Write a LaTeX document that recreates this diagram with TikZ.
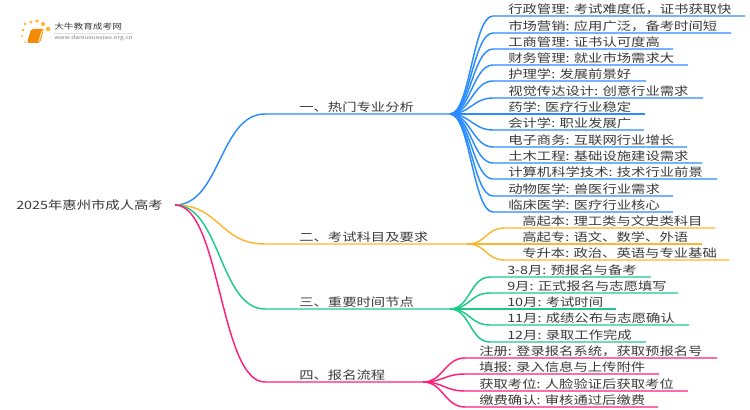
\documentclass[tikz,border=0pt]{standalone}
\usepackage{fontspec}
\setmainfont[FakeStretch=1.25]{Noto Sans CJK SC}
\usetikzlibrary{positioning,calc}
\definecolor{sky}{HTML}{2A8CFF}
\definecolor{amber}{HTML}{FDB62F}
\definecolor{mint}{HTML}{1FC98A}
\definecolor{rose}{HTML}{FF1F7A}
\definecolor{ink}{HTML}{3A3A3A}
\definecolor{bookorange}{HTML}{F28A0A}
\tikzstyle{root} = [anchor=west, text=ink, font=\fontsize{8.6pt}{11pt}\selectfont, inner sep=0pt]
\tikzstyle{major} = [anchor=south west, text=ink, font=\fontsize{8.6pt}{11pt}\selectfont, inner xsep=0pt, inner ysep=0.3pt, text height=7.5pt, text depth=1.2pt]
\tikzstyle{leaf} = [major]
\tikzstyle{trunk} = [line width=1.1pt, out=0, in=180, out distance=34pt, in distance=34pt]
\tikzstyle{twig} = [line width=1.1pt, out=0, in=180, out distance=15pt, in distance=15pt]
\begin{document}
\begin{tikzpicture}[x=0.75pt,y=-0.75pt]
	\useasboundingbox (0,0) rectangle (750,410);
	% logo
	\foreach \dotx/\doty/\dotr in {25/42/0.9,22/36/1.1,23/30/1.3,25/24/1.5,31/22/1.7,37/21/1.9,43/24/2.1,48/29/2.3}
		\fill [amber] (\dotx,\doty) circle (\dotr);
	\fill [bookorange, rounded corners=1.5pt] (31,29) -- (44,29) -- (40,43) -- (27,43) -- cycle;
	\fill [amber!60!white] (41.5,30.5) -- (43,30.5) -- (39.5,41.5) -- (38,41.5) -- cycle;
	\node (logotitle) [anchor=west, inner sep=0pt, text=ink, font=\fontsize{5.8pt}{8pt}\selectfont] at (54,27) {大牛教育成考网};
	\node (logourl) [anchor=west, inner sep=0pt, text=gray, font=\fontsize{3.9pt}{5pt}\selectfont] at (54,38) {www.daniuxuexiao.org.cn};
	\draw [black!12, line width=0.4pt] (54,33) -- (133,33);
	% root and majors
	\node (root) [root] at (16,205) {2025年惠州市成人高考};
	\node (m1) [major] at (299,114) {一、热门专业分析};
	\node (m2) [major] at (299,244) {二、考试科目及要求};
	\node (m3) [major] at (299,309) {三、重要时间节点};
	\node (m4) [major] at (299,382) {四、报名流程};
	\coordinate (rootr) at (175,205);
	\coordinate (m1r) at (450,114);
	\coordinate (m2r) at (467,244);
	\coordinate (m3r) at (450,309);
	\coordinate (m4r) at (423,382);
	\draw [trunk, sky] (rootr) to ($(m1.south west)+(-34,0)$) -- (m1r);
	\draw [trunk, amber] (rootr) to ($(m2.south west)+(-34,0)$) -- (m2r);
	\draw [trunk, mint] (rootr) to ($(m3.south west)+(-34,0)$) -- (m3r);
	\draw [trunk, rose] (rootr) to ($(m4.south west)+(-34,0)$) -- (m4r);
	% first group
	\node (a1) [leaf] at (508,16) {行政管理: 考试难度低，证书获取快};
	\node (a2) [leaf] at (508,33) {市场营销: 应用广泛，备考时间短};
	\node (a3) [leaf] at (508,49) {工商管理: 证书认可度高};
	\node (a4) [leaf] at (508,65) {财务管理: 就业市场需求大};
	\node (a5) [leaf] at (508,81) {护理学: 发展前景好};
	\node (a6) [leaf] at (508,98) {视觉传达设计: 创意行业需求};
	\node (a7) [leaf] at (508,114) {药学: 医疗行业稳定};
	\node (a8) [leaf] at (508,130) {会计学: 职业发展广};
	\node (a9) [leaf] at (508,147) {电子商务: 互联网行业增长};
	\node (a10) [leaf] at (508,163) {土木工程: 基础设施建设需求};
	\node (a11) [leaf] at (508,179) {计算机科学技术: 技术行业前景};
	\node (a12) [leaf] at (508,196) {动物医学: 兽医行业需求};
	\node (a13) [leaf] at (508,212) {临床医学: 医疗行业核心};
	\coordinate (a1r) at (745,16);
	\coordinate (a2r) at (731,33);
	\coordinate (a3r) at (673,49);
	\coordinate (a4r) at (688,65);
	\coordinate (a5r) at (646,81);
	\coordinate (a6r) at (703,98);
	\coordinate (a7r) at (645,114);
	\coordinate (a8r) at (644,130);
	\coordinate (a9r) at (687,147);
	\coordinate (a10r) at (702,163);
	\coordinate (a11r) at (717,179);
	\coordinate (a12r) at (673,196);
	\coordinate (a13r) at (673,212);
	\draw [twig, sky] (m1r) to ($(a1.south west)+(-15,0)$) -- (a1r);
	\draw [twig, sky] (m1r) to ($(a2.south west)+(-15,0)$) -- (a2r);
	\draw [twig, sky] (m1r) to ($(a3.south west)+(-15,0)$) -- (a3r);
	\draw [twig, sky] (m1r) to ($(a4.south west)+(-15,0)$) -- (a4r);
	\draw [twig, sky] (m1r) to ($(a5.south west)+(-15,0)$) -- (a5r);
	\draw [twig, sky] (m1r) to ($(a6.south west)+(-15,0)$) -- (a6r);
	\draw [twig, sky] (m1r) to ($(a7.south west)+(-15,0)$) -- (a7r);
	\draw [twig, sky] (m1r) to ($(a8.south west)+(-15,0)$) -- (a8r);
	\draw [twig, sky] (m1r) to ($(a9.south west)+(-15,0)$) -- (a9r);
	\draw [twig, sky] (m1r) to ($(a10.south west)+(-15,0)$) -- (a10r);
	\draw [twig, sky] (m1r) to ($(a11.south west)+(-15,0)$) -- (a11r);
	\draw [twig, sky] (m1r) to ($(a12.south west)+(-15,0)$) -- (a12r);
	\draw [twig, sky] (m1r) to ($(a13.south west)+(-15,0)$) -- (a13r);
	% second group
	\node (b1) [leaf] at (522,228) {高起本: 理工类与文史类科目};
	\node (b2) [leaf] at (522,244) {高起专: 语文、数学、外语};
	\node (b3) [leaf] at (522,260) {专升本: 政治、英语与专业基础};
	\coordinate (b1r) at (715,228);
	\coordinate (b2r) at (702,244);
	\coordinate (b3r) at (729,260);
	\draw [twig, amber] (m2r) to ($(b1.south west)+(-17,0)$) -- (b1r);
	\draw [twig, amber] (m2r) to ($(b2.south west)+(-17,0)$) -- (b2r);
	\draw [twig, amber] (m2r) to ($(b3.south west)+(-17,0)$) -- (b3r);
	% third group
	\node (c1) [leaf] at (507,277) {3-8月: 预报名与备考};
	\node (c2) [leaf] at (507,293) {9月: 正式报名与志愿填写};
	\node (c3) [leaf] at (507,309) {10月: 考试时间};
	\node (c4) [leaf] at (507,325) {11月: 成绩公布与志愿确认};
	\node (c5) [leaf] at (507,342) {12月: 录取工作完成};
	\coordinate (c1r) at (651,277);
	\coordinate (c2r) at (678,293);
	\coordinate (c3r) at (616,309);
	\coordinate (c4r) at (689,325);
	\coordinate (c5r) at (646,342);
	\draw [twig, mint] (m3r) to ($(c1.south west)+(-17,0)$) -- (c1r);
	\draw [twig, mint] (m3r) to ($(c2.south west)+(-17,0)$) -- (c2r);
	\draw [twig, mint] (m3r) to ($(c3.south west)+(-17,0)$) -- (c3r);
	\draw [twig, mint] (m3r) to ($(c4.south west)+(-17,0)$) -- (c4r);
	\draw [twig, mint] (m3r) to ($(c5.south west)+(-17,0)$) -- (c5r);
	% fourth group
	\node (d1) [leaf] at (479,358) {注册: 登录报名系统，获取预报名号};
	\node (d2) [leaf] at (479,374) {填报: 录入信息与上传附件};
	\node (d3) [leaf] at (479,391) {获取考位: 人脸验证后获取考位};
	\node (d4) [leaf] at (479,407) {缴费确认: 审核通过后缴费};
	\coordinate (d1r) at (717,358);
	\coordinate (d2r) at (659,374);
	\coordinate (d3r) at (688,391);
	\coordinate (d4r) at (658,407);
	\draw [twig, rose] (m4r) to ($(d1.south west)+(-14,0)$) -- (d1r);
	\draw [twig, rose] (m4r) to ($(d2.south west)+(-14,0)$) -- (d2r);
	\draw [twig, rose] (m4r) to ($(d3.south west)+(-14,0)$) -- (d3r);
	\draw [twig, rose] (m4r) to ($(d4.south west)+(-14,0)$) -- (d4r);
\end{tikzpicture}
\end{document}
